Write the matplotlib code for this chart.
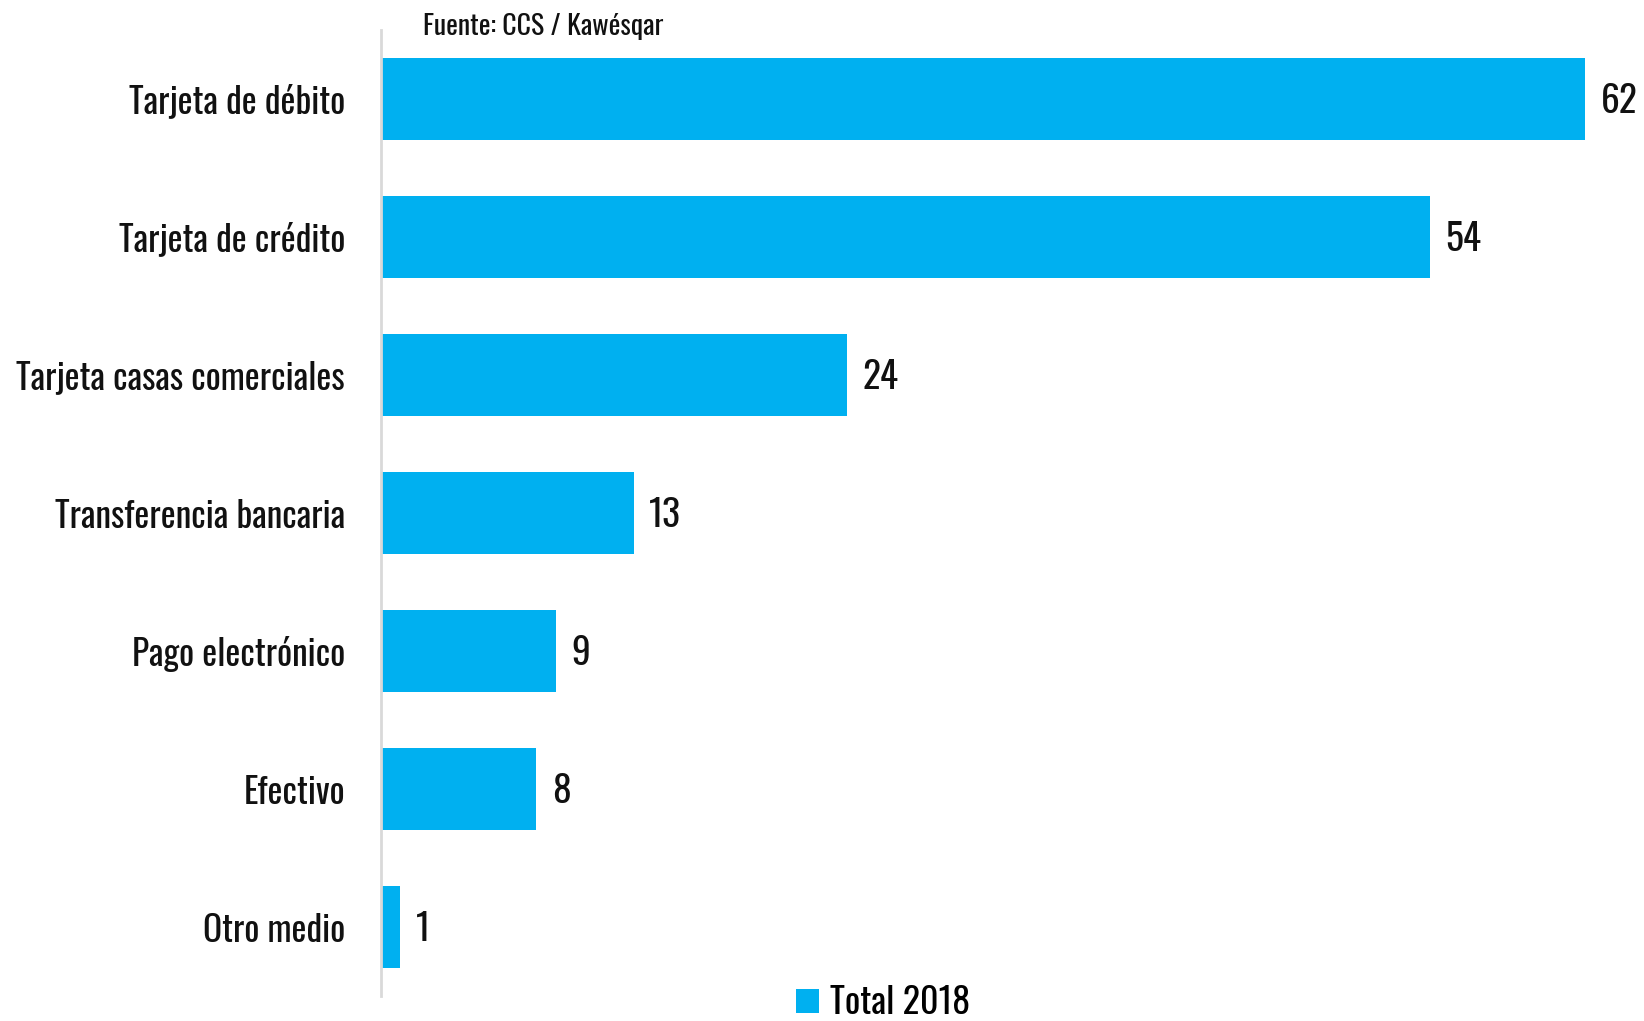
import matplotlib
matplotlib.use('Agg')
import matplotlib.pyplot as plt
import numpy as np

categories = ['Tarjeta de débito', 'Tarjeta de crédito', 'Tarjeta casas comerciales',
              'Transferencia bancaria', 'Pago electrónico', 'Efectivo', 'Otro medio']
values = [62, 54, 24, 13, 9, 8, 1]
series_name = 'Total 2018'
source = 'Fuente: CCS / Kawésqar'

BLUE = '#00B0F0'
plt.rcParams['font.family'] = ['Oswald', 'Asap Condensed', 'DejaVu Sans']
plt.rcParams['font.weight'] = 300

fig = plt.figure(figsize=(16.44, 10.21), dpi=100)
ax = fig.add_axes([381 / 1644, 25 / 1021, 1282 / 1644, 966 / 1021])

y = np.arange(len(categories))
bars = ax.barh(y, values, height=0.6, color=BLUE, label=series_name)

for bar, v in zip(bars, values):
    ax.annotate(f'{v}', (bar.get_width(), bar.get_y() + bar.get_height() / 2),
                xytext=(11, -2), textcoords='offset points',
                va='center', ha='left', fontsize=27, color='#111111')

ax.set_yticks(y)
ax.set_yticklabels(categories, fontsize=25.5, color='#111111')
ax.set_ylim(6.5, -0.5)
ax.set_xlim(0, 66)
ax.set_xticks([])
ax.tick_params(axis='y', length=0, pad=26)

for name, spine in ax.spines.items():
    spine.set_visible(name == 'left')
ax.spines['left'].set_color('#d9d9d9')
ax.spines['left'].set_linewidth(2)

fig.text(423 / 1644, 1 - 27 / 1021, source, fontsize=20, va='center', ha='left', color='#111111')

fig.legend(loc='center', bbox_to_anchor=(883 / 1644, 1 - 1003 / 1021), frameon=False,
           fontsize=26, handlelength=0.65, handleheight=0.65, handletextpad=0.3)

fig.savefig('out.png', dpi=100, facecolor='white')
